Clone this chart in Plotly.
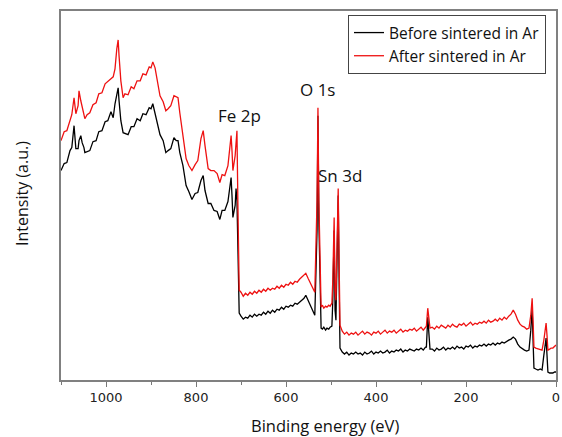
import plotly.graph_objects as go

# Binding energy grid (eV), shared by both spectra
binding_energy = [
    # 1100 - 704 eV : Auger / Fe 2p region
    1100, 1093, 1087, 1080, 1076, 1071, 1067, 1062, 1060, 1056, 1053, 1049, 1047, 1042,
    1036, 1029, 1022, 1016, 1009, 1002, 996, 989, 984, 980, 976, 973, 971, 967, 962, 958,
    951, 944, 938, 931, 924, 918, 911, 904, 900, 896, 891, 887, 880, 873, 867, 862, 856,
    849, 844, 840, 836, 829, 822, 816, 809, 802, 796, 789, 784, 780, 773, 767, 760, 753,
    747, 742, 736, 729, 724, 722, 720, 718, 713, 711, 709, 707, 704,
    # 700 - 560 eV : background
    700, 695, 690, 685, 680, 675, 670, 665, 660, 655, 650, 645, 640, 635, 630, 625, 620,
    615, 610, 605, 600, 595, 590, 585, 580, 575, 570, 565, 560,
    # 556 - 480 eV : O 1s and Sn 3d
    556, 551, 544, 540, 536, 531, 529, 527, 524, 522, 519, 516, 512, 509, 505, 502, 498,
    496, 493, 491, 489, 487, 484, 482, 480,
    # 475 - 290 eV : background
    475, 470, 465, 460, 455, 450, 445, 440, 435, 430, 425, 420, 415, 410, 405, 400, 395,
    390, 385, 380, 375, 370, 365, 360, 355, 350, 345, 340, 335, 330, 325, 320, 315, 310,
    305, 300, 295, 290,
    # C 1s
    288, 285, 283, 280,
    # 275 - 60 eV : background
    275, 270, 265, 260, 255, 250, 245, 240, 235, 230, 225, 220, 215, 210, 205, 200, 195,
    190, 185, 180, 175, 170, 165, 160, 155, 150, 145, 140, 135, 130, 125, 120, 115, 110,
    105, 100, 95, 90, 85, 80, 75, 70, 65, 60,
    # 56 - 0 eV : shallow core levels
    56, 53, 51, 49, 45, 40, 35, 31, 27, 22, 20, 18, 14, 11, 7, 3, 0,
]

# Intensity (a.u.) of the sample before sintering in Ar
before_intensity = [
    210, 217, 218, 230, 233, 255, 232, 232, 240, 245, 238, 233, 228, 229,
    230, 239, 240, 249, 250, 259, 260, 269, 263, 277, 285, 293, 280, 260, 248, 247,
    246, 254, 254, 262, 260, 267, 266, 273, 272, 277, 268, 260, 246, 240, 228, 230, 232,
    243, 240, 240, 228, 215, 195, 189, 181, 187, 188, 200, 205, 190, 177, 177, 170, 169,
    161, 170, 170, 179, 195, 203, 185, 163, 175, 192, 180, 120, 67,
    64, 61, 63, 62, 65, 63, 66, 64, 66, 65, 68, 66, 69, 67, 70, 68, 71,
    70, 73, 71, 74, 73, 75, 74, 77, 76, 78, 80, 82,
    85, 80, 73, 70, 65, 150, 265, 160, 70, 52, 51, 53, 50, 52, 51, 53, 54,
    80, 150, 70, 60, 120, 185, 100, 32,
    28, 26, 28, 25, 27, 26, 28, 26, 27, 25, 28, 26, 27, 29, 26, 28, 27,
    29, 27, 28, 30, 27, 29, 28, 30, 29, 31, 28, 30, 29, 31, 30, 29, 31,
    30, 32, 30, 33,
    33, 63, 45, 31,
    31, 29, 32, 30, 31, 33, 30, 32, 31, 33, 31, 34, 32, 33, 31, 34, 33,
    35, 32, 34, 33, 35, 34, 36, 34, 36, 35, 37, 35, 37, 36, 38, 37, 39,
    40, 41, 43, 41, 36, 33, 31, 30, 29, 30,
    50, 72, 40, 12, 11, 10, 11, 10, 25, 42, 25, 8, 7, 7, 7, 8, 8,
]

# Intensity (a.u.) of the sample after sintering in Ar
after_intensity = [
    240, 249, 250, 260, 266, 283, 267, 275, 290, 280, 274, 265, 262, 266,
    268, 276, 278, 287, 288, 297, 299, 302, 304, 312, 332, 341, 325, 300, 283, 287,
    286, 294, 292, 300, 300, 307, 306, 314, 313, 319, 313, 302, 285, 279, 270, 272, 275,
    285, 284, 283, 268, 245, 222, 215, 210, 216, 220, 242, 250, 235, 212, 210, 210, 207,
    198, 206, 205, 215, 235, 245, 230, 210, 225, 240, 250, 180, 90,
    88, 84, 87, 85, 88, 86, 89, 87, 90, 88, 91, 89, 92, 90, 92, 91, 94,
    92, 95, 93, 96, 95, 98, 96, 99, 98, 101, 103, 105,
    107, 102, 96, 92, 88, 180, 273, 180, 90, 73, 75, 72, 74, 73, 75, 74, 77,
    100, 163, 90, 80, 130, 192, 120, 55,
    49, 46, 48, 45, 47, 46, 48, 45, 47, 49, 46, 48, 47, 45, 48, 47, 49,
    46, 48, 50, 47, 49, 48, 50, 47, 49, 51, 48, 50, 49, 51, 50, 52, 49,
    51, 53, 50, 53,
    54, 72, 60, 52,
    53, 51, 54, 52, 55, 53, 52, 55, 53, 56, 54, 53, 56, 55, 57, 54, 56,
    58, 55, 57, 56, 58, 57, 59, 57, 60, 58, 59, 61, 59, 62, 60, 63, 61,
    64, 66, 70, 66, 60, 56, 54, 53, 51, 52,
    65, 82, 60, 33, 32, 31, 30, 30, 40, 57, 45, 30, 31, 32, 32, 34, 35,
]

assert len(binding_energy) == len(before_intensity) == len(after_intensity)

series_names = ["Before sintered in Ar", "After sintered in Ar"]
peak_labels = ["Fe 2p", "O 1s", "Sn 3d"]
peak_label_energy = [704, 529, 479]
peak_label_intensity = [265, 291, 205]

text_font = "Open Sans, Liberation Sans, sans-serif"

# window-pixel layout (page body margin is removed after plotting)
WIN_W, WIN_H = 562, 437
PLOT_L, PLOT_R, PLOT_T, PLOT_B = 61, 556, 11, 380
w = PLOT_R - PLOT_L
h = PLOT_B - PLOT_T

fig = go.Figure()
fig.add_trace(go.Scatter(x=binding_energy, y=before_intensity, mode="lines",
                         name=series_names[0], line=dict(color="#000000", width=1.3)))
fig.add_trace(go.Scatter(x=binding_energy, y=after_intensity, mode="lines",
                         name=series_names[1], line=dict(color="#ee1111", width=1.3)))

for lbl, ex, iy in zip(peak_labels, peak_label_energy, peak_label_intensity):
    fig.add_annotation(x=ex, y=iy, text=lbl, showarrow=False,
                       font=dict(family=text_font, size=17, color="#111111"))

# axis titles placed as in the reference
fig.add_annotation(xref="paper", yref="paper", x=(325 - PLOT_L) / w, y=(PLOT_B - 425) / h,
                   text="Binding energy (eV)", showarrow=False, xanchor="center", yanchor="middle",
                   font=dict(family=text_font, size=16.5, color="#111111"))
fig.add_annotation(xref="paper", yref="paper", x=(22 - PLOT_L) / w, y=(PLOT_B - 194) / h,
                   text="Intensity (a.u.)", showarrow=False, textangle=-90,
                   xanchor="center", yanchor="middle",
                   font=dict(family=text_font, size=16, color="#111111"))

fig.update_layout(
    width=WIN_W, height=WIN_H,
    margin=dict(l=PLOT_L, r=WIN_W - PLOT_R, t=PLOT_T, b=WIN_H - PLOT_B),
    paper_bgcolor="white", plot_bgcolor="white",
    showlegend=True,
    legend=dict(x=(546 - PLOT_L) / w, y=(PLOT_B - 15) / h, xanchor="right", yanchor="top",
                bgcolor="white", bordercolor="#444444", borderwidth=1,
                font=dict(family=text_font, size=15.5, color="#111111"),
                tracegroupgap=0),
    xaxis=dict(range=[1100, 0], tickvals=[1000, 800, 600, 400, 200, 0], automargin=False,
               ticks="outside", ticklen=5, tickwidth=1.2, tickcolor="#777777",
               minor=dict(dtick=100, tick0=0, ticks="outside", ticklen=3, tickcolor="#777777"),
               showline=True, linecolor="#808080", linewidth=1.6, mirror=True,
               showgrid=False, zeroline=False,
               tickfont=dict(family="DejaVu Sans", size=13, color="#222222")),
    yaxis=dict(range=[0, 370], showticklabels=False, ticks="", automargin=False,
               showline=True, linecolor="#808080", linewidth=1.6, mirror=True,
               showgrid=False, zeroline=False),
)

fig.write_html("out.html",
               config={"displayModeBar": False},
               post_script="document.body.style.margin='0px';document.body.style.overflow='hidden';")
